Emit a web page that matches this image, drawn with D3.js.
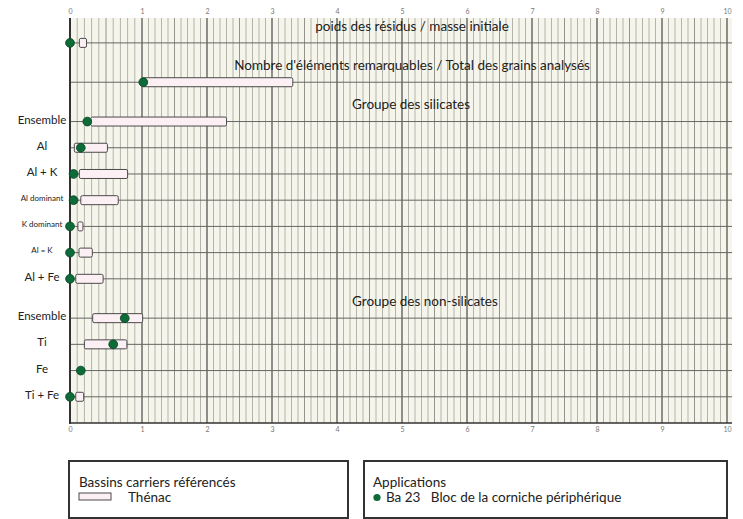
<!DOCTYPE html>
<html><head><meta charset="utf-8">
<script src="https://cdn.jsdelivr.net/npm/d3@7"></script>
<style>body{margin:0;background:#fff} svg{display:block}</style>
</head><body>
<svg id="c" width="743" height="519"></svg>
<script>
// ---- data ----
const groupTitles = ["poids des résidus / masse initiale", "Nombre d'éléments remarquables / Total des grains analysés", "Groupe des silicates", "Groupe des non-silicates"];
const rowGroups = [0, 1, 2, 2, 2, 2, 2, 2, 2, 3, 3, 3, 3];
const rowLabels = ["", "", "Ensemble", "Al", "Al + K", "Al dominant", "K dominant", "Al = K", "Al + Fe", "Ensemble", "Ti", "Fe", "Ti + Fe"];
const thenacMin = [0.13, 1.0, 0.29, 0.06, 0.13, 0.15, 0.11, 0.125, 0.08, 0.315, 0.2, null, 0.08];
const thenacMax = [0.23, 3.32, 2.30, 0.52, 0.80, 0.67, 0.18, 0.31, 0.46, 1.01, 0.79, null, 0.19];
const ba23 = [0, 1.02, 0.24, 0.15, 0.05, 0.05, 0, 0, 0, 0.76, 0.6, 0.15, 0];
const xTicks = [0, 1, 2, 3, 4, 5, 6, 7, 8, 9, 10];
const legendLeftTitle = "Bassins carriers référencés";
const legendLeftItem = "Thénac";
const legendRightTitle = "Applications";
const legendRightItem = "Ba 23   Bloc de la corniche périphérique";

// ---- layout ----
const svg = d3.select("#c");
const FONT = "Lato, 'Open Sans', sans-serif";
const pTop = 18, pBottom = 423, pLeft = 70, pRight = 732;

// row slots derived from group structure
const slots = [];
let s = 0;
rowGroups.forEach((g, i) => { if (i > 0) s += (g !== rowGroups[i - 1]) ? 3 : 2; slots.push(s); });

const x = d3.scaleLinear().domain([0, 1, 10]).range([70, 142, 727]);
const y = d3.scaleLinear().domain([-1.9, 29]).range([pTop, pBottom]);

// background
svg.append("rect").attr("x", pLeft).attr("y", pTop).attr("width", pRight - pLeft).attr("height", pBottom - pTop).attr("fill", "#f5f5ec");

// minor vertical grid
const minor = d3.range(1, 100).filter(v => v % 10 !== 0).map(v => v / 10);
svg.append("g").selectAll("line").data(minor).join("line")
  .attr("x1", d => x(d)).attr("x2", d => x(d)).attr("y1", pTop).attr("y2", pBottom)
  .attr("stroke", d => (Math.round(d * 10) % 5 === 0) ? "#94948c" : "#b4b4aa")
  .attr("stroke-width", 1);

// major vertical grid
svg.append("g").selectAll("line").data(xTicks.slice(1)).join("line")
  .attr("x1", d => x(d)).attr("x2", d => x(d)).attr("y1", pTop).attr("y2", pBottom)
  .attr("stroke", "#555").attr("stroke-width", 1.3);

// horizontal row lines
svg.append("g").selectAll("line").data(slots).join("line")
  .attr("x1", pLeft).attr("x2", pRight).attr("y1", d => y(d)).attr("y2", d => y(d))
  .attr("stroke", "#666662").attr("stroke-width", 1);

// axes
const axTop = d3.axisTop(x).tickValues(xTicks).tickSize(0).tickPadding(0).tickFormat(d3.format("d"));
const axBot = d3.axisBottom(x).tickValues(xTicks).tickSize(0).tickPadding(0).tickFormat(d3.format("d"));
const gTop = svg.append("g").attr("transform", `translate(0,${pTop - 4})`).call(axTop);
const gBot = svg.append("g").attr("transform", `translate(0,${pBottom + 4})`).call(axBot);
[gTop, gBot].forEach(g => {
  g.select(".domain").remove();
  g.selectAll("text").attr("font-family", FONT).attr("font-size", 7).attr("fill", "#777");
});
svg.append("line").attr("x1", pLeft).attr("x2", pRight).attr("y1", pBottom).attr("y2", pBottom).attr("stroke", "#333").attr("stroke-width", 1.6);
svg.append("line").attr("x1", x(0)).attr("x2", x(0)).attr("y1", pTop).attr("y2", pBottom + 1).attr("stroke", "#333").attr("stroke-width", 2);

// group titles
const titleAnchor = ["middle", "middle", "start", "start"];
const titleX = [412, 412, 352, 352];
groupTitles.forEach((t, gi) => {
  const first = rowGroups.indexOf(gi);
  svg.append("text").attr("x", titleX[gi]).attr("y", y(slots[first]) - 17).attr("dy", "0.35em")
    .attr("text-anchor", titleAnchor[gi]).attr("font-family", FONT).attr("font-size", 13.5)
    .attr("fill", "#222").text(t);
});

// row labels
const small = l => /dominant|=/.test(l);
svg.append("g").selectAll("text").data(rowLabels).join("text")
  .attr("x", 42).attr("y", (d, i) => y(slots[i]) - 2).attr("dy", "0.35em")
  .attr("text-anchor", "middle").attr("font-family", FONT)
  .attr("font-size", d => small(d) ? 8 : 11.5).attr("fill", "#222").text(d => d);

// bars (Thénac)
const rows = rowLabels.map((l, i) => ({ i, min: thenacMin[i], max: thenacMax[i], v: ba23[i] }));
svg.append("g").selectAll("rect").data(rows.filter(d => d.min != null)).join("rect")
  .attr("x", d => x(d.min)).attr("width", d => x(d.max) - x(d.min))
  .attr("y", d => y(slots[d.i]) - 4.5).attr("height", 9).attr("rx", 1.5)
  .attr("fill", "#fdf0f5").attr("stroke", "#4a4a4a").attr("stroke-width", 1);

// dots (Ba 23)
svg.append("g").selectAll("circle").data(rows.filter(d => d.v != null)).join("circle")
  .attr("cx", d => x(d.v)).attr("cy", d => y(slots[d.i])).attr("r", 4.4)
  .attr("fill", "#0d6b37").attr("stroke", "#07431f").attr("stroke-width", 0.8);

// legends
const lg = svg.append("g").attr("font-family", FONT).attr("fill", "#222");
lg.append("rect").attr("x", 69).attr("y", 461).attr("width", 279).attr("height", 57).attr("fill", "none").attr("stroke", "#333").attr("stroke-width", 2);
lg.append("text").attr("x", 79).attr("y", 487).attr("font-size", 13.5).text(legendLeftTitle);
lg.append("rect").attr("x", 79).attr("y", 493).attr("width", 32).attr("height", 7).attr("fill", "#fdf0f5").attr("stroke", "#4a4a4a").attr("stroke-width", 1);
lg.append("text").attr("x", 128).attr("y", 502).attr("font-size", 13.5).text(legendLeftItem);

lg.append("rect").attr("x", 364).attr("y", 461).attr("width", 363).attr("height", 57).attr("fill", "none").attr("stroke", "#333").attr("stroke-width", 2);
lg.append("text").attr("x", 373).attr("y", 487).attr("font-size", 13.5).text(legendRightTitle);
lg.append("circle").attr("cx", 377).attr("cy", 497.5).attr("r", 3.6).attr("fill", "#0d6b37");
lg.append("text").attr("x", 386).attr("y", 502).attr("font-size", 13.5).style("white-space", "pre").text(legendRightItem);
</script>
</body></html>
